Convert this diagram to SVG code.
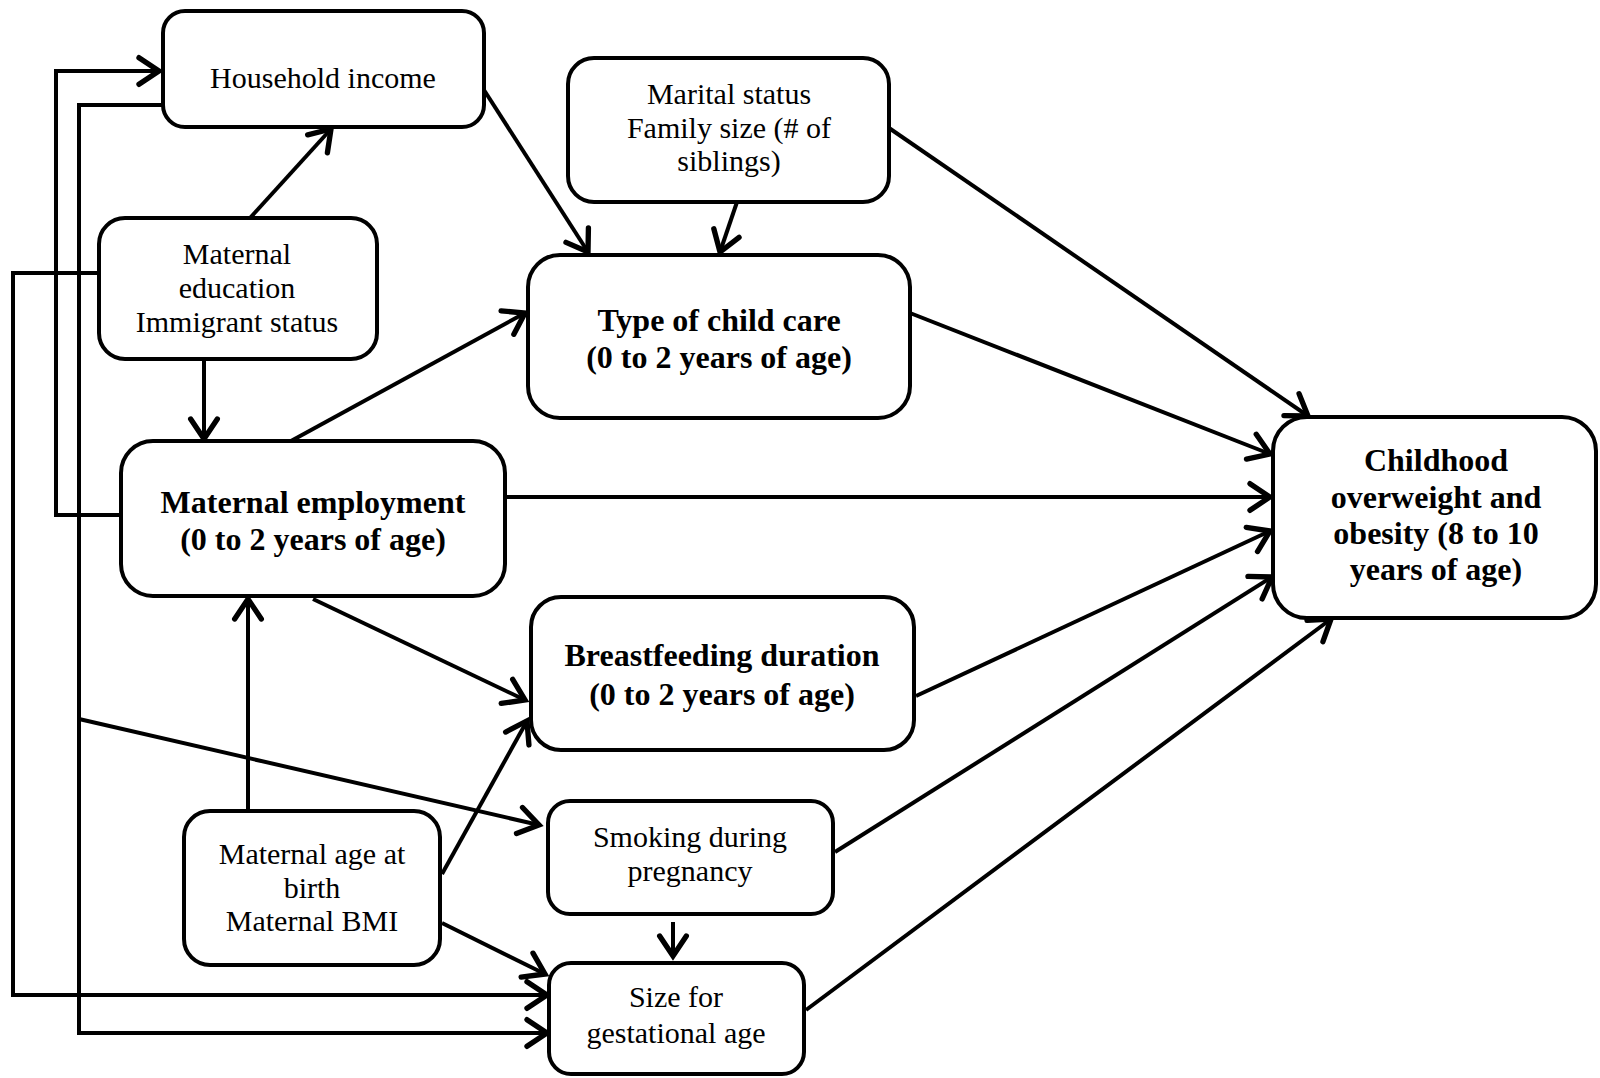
<svg xmlns="http://www.w3.org/2000/svg" width="1600" height="1078" viewBox="0 0 1600 1078">
<style>
.box{fill:#fff;stroke:#000;stroke-width:4}
.t{font-family:"Liberation Serif","Times New Roman",serif;font-size:30px;text-anchor:middle;fill:#000}
.b{font-family:"Liberation Serif","Times New Roman",serif;font-size:32px;font-weight:bold;text-anchor:middle;fill:#000}
.c{fill:none;stroke:#000;stroke-width:4;stroke-linejoin:miter}
</style>
<defs>
<marker id="a" markerUnits="userSpaceOnUse" markerWidth="40" markerHeight="40" viewBox="-20 -15 25 30" refX="0" refY="0" orient="auto" overflow="visible">
<path d="M-15,-10 L0,0 L-15,10" fill="none" stroke="#000" stroke-width="4" stroke-linecap="round"/>
</marker>
</defs>
<rect width="1600" height="1078" fill="#fff"/>
<g id="connectors">
<polyline class="c" points="121,515 56,515 56,71 159,71" marker-end="url(#a)"/>
<polyline class="c" points="163,105 79,105 79,1033 547,1033" marker-end="url(#a)"/>
<line class="c" x1="79" y1="719" x2="539" y2="825" marker-end="url(#a)"/>
<polyline class="c" points="99,273 13,273 13,995 547,995" marker-end="url(#a)"/>
<line class="c" x1="204" y1="359" x2="204" y2="439" marker-end="url(#a)"/>
<line class="c" x1="250" y1="218" x2="331" y2="129" marker-end="url(#a)"/>
<line class="c" x1="484" y1="90" x2="588" y2="252" marker-end="url(#a)"/>
<line class="c" x1="737" y1="202" x2="720" y2="252" marker-end="url(#a)"/>
<line class="c" x1="889" y1="128" x2="1308" y2="416" marker-end="url(#a)"/>
<line class="c" x1="910" y1="313" x2="1270" y2="454" marker-end="url(#a)"/>
<line class="c" x1="505" y1="497" x2="1270" y2="497" marker-end="url(#a)"/>
<line class="c" x1="291" y1="441" x2="525" y2="313" marker-end="url(#a)"/>
<line class="c" x1="313" y1="599" x2="525" y2="700" marker-end="url(#a)"/>
<line class="c" x1="248" y1="811" x2="248" y2="599" marker-end="url(#a)"/>
<line class="c" x1="442" y1="874" x2="527" y2="721" marker-end="url(#a)"/>
<line class="c" x1="442" y1="923" x2="545" y2="974" marker-end="url(#a)"/>
<line class="c" x1="916" y1="696" x2="1270" y2="531" marker-end="url(#a)"/>
<line class="c" x1="835" y1="852" x2="1272" y2="577" marker-end="url(#a)"/>
<line class="c" x1="673" y1="922" x2="673" y2="956" marker-end="url(#a)"/>
<line class="c" x1="806" y1="1010" x2="1331" y2="619" marker-end="url(#a)"/>
</g>
<g id="household-income">
<rect class="box" x="163" y="11" width="321" height="116" rx="22"/>
<text class="t" x="323" y="88">Household income</text>
</g>
<g id="marital-status">
<rect class="box" x="568" y="58" width="321" height="144" rx="26"/>
<text class="t" x="729" y="104">Marital status</text>
<text class="t" x="729" y="138">Family size (# of</text>
<text class="t" x="729" y="171">siblings)</text>
</g>
<g id="maternal-education">
<rect class="box" x="99" y="218" width="278" height="141" rx="26"/>
<text class="t" x="237" y="264">Maternal</text>
<text class="t" x="237" y="298">education</text>
<text class="t" x="237" y="332">Immigrant status</text>
</g>
<g id="type-of-child-care">
<rect class="box" x="528" y="255" width="382" height="163" rx="32"/>
<text class="b" x="719" y="331">Type of child care</text>
<text class="b" x="719" y="368">(0 to 2 years of age)</text>
</g>
<g id="maternal-employment">
<rect class="box" x="121" y="441" width="384" height="155" rx="32"/>
<text class="b" x="313" y="513">Maternal employment</text>
<text class="b" x="313" y="550">(0 to 2 years of age)</text>
</g>
<g id="childhood-overweight">
<rect class="box" x="1273" y="417" width="323" height="201" rx="34"/>
<text class="b" x="1436" y="471">Childhood</text>
<text class="b" x="1436" y="508">overweight and</text>
<text class="b" x="1436" y="544">obesity (8 to 10</text>
<text class="b" x="1436" y="580">years of age)</text>
</g>
<g id="breastfeeding">
<rect class="box" x="531" y="597" width="383" height="153" rx="30"/>
<text class="b" x="722" y="666">Breastfeeding duration</text>
<text class="b" x="722" y="705">(0 to 2 years of age)</text>
</g>
<g id="smoking">
<rect class="box" x="548" y="801" width="285" height="113" rx="22"/>
<text class="t" x="690" y="847">Smoking during</text>
<text class="t" x="690" y="881">pregnancy</text>
</g>
<g id="maternal-age">
<rect class="box" x="184" y="811" width="256" height="154" rx="26"/>
<text class="t" x="312" y="864">Maternal age at</text>
<text class="t" x="312" y="898">birth</text>
<text class="t" x="312" y="931">Maternal BMI</text>
</g>
<g id="size-gestational-age">
<rect class="box" x="549" y="963" width="255" height="111" rx="22"/>
<text class="t" x="676" y="1007">Size for</text>
<text class="t" x="676" y="1043">gestational age</text>
</g>
</svg>
